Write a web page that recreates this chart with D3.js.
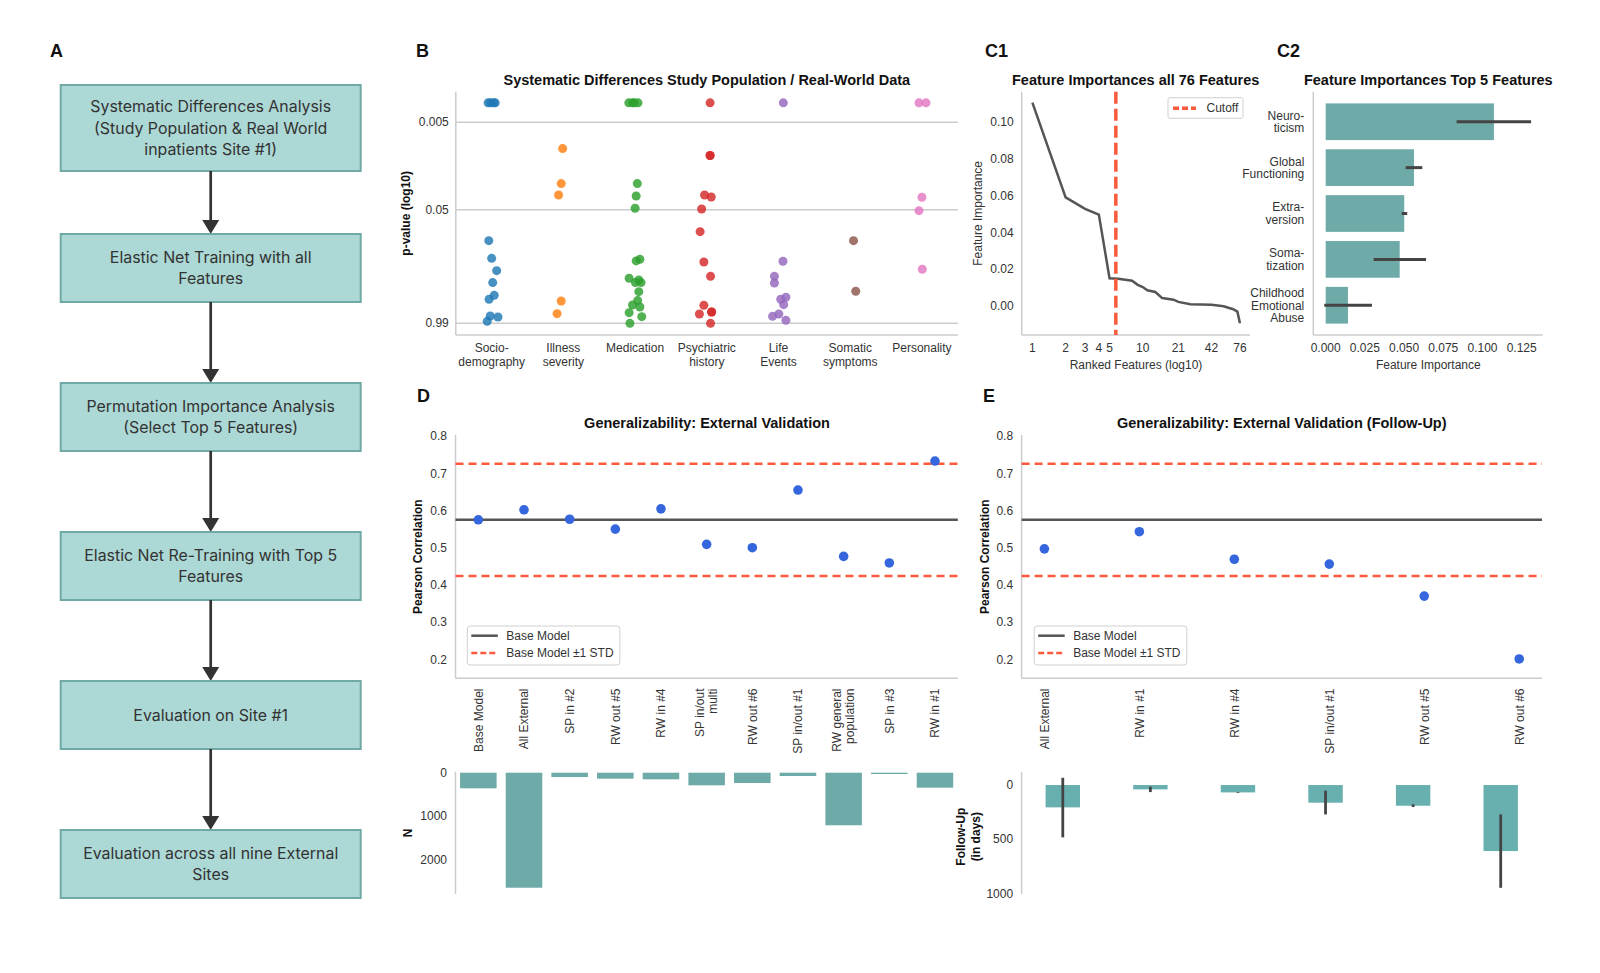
<!DOCTYPE html>
<html><head><meta charset="utf-8">
<script src="https://cdn.jsdelivr.net/npm/d3@7"></script>
<style>
body{margin:0;background:#fff}
svg text{font-family:"Liberation Sans",Arial,sans-serif;fill:#333}
</style>
</head><body>
<svg id="fig" width="1600" height="973"></svg>
<script>
// ================= DATA =================
// Panel A: flowchart steps
const flowSteps = [
  ["Systematic Differences Analysis", "(Study Population & Real World", "inpatients Site #1)"],
  ["Elastic Net Training with all", "Features"],
  ["Permutation Importance Analysis", "(Select Top 5 Features)"],
  ["Elastic Net Re-Training with Top 5", "Features"],
  ["Evaluation on Site #1"],
  ["Evaluation across all nine External", "Sites"]
];

// Panel B: strip plot, [jitter (fraction of category width), p-value]
const bCategories = ["Socio-\ndemography", "Illness\nseverity", "Medication", "Psychiatric\nhistory", "Life\nEvents", "Somatic\nsymptoms", "Personality"];
const bPTicks = [0.005, 0.05, 0.99];
const bSociodemography = [[-0.05,0.003],[-0.015,0.003],[0.026,0.003],[0.05,0.003],[-0.04,0.1127],[0,0.1794],[0.07,0.248],[0.015,0.34],[0.036,0.475],[-0.036,0.527],[-0.02,0.818],[0.088,0.839],[-0.062,0.941]];
const bIllness = [[-0.01,0.0100],[-0.03,0.0251],[-0.067,0.0339],[-0.03,0.551],[-0.088,0.769]];
const bMedication = [[-0.088,0.003],[-0.036,0.003],[-0.01,0.003],[0.041,0.003],[0.031,0.0251],[0.015,0.0348],[0,0.0481],[0.067,0.184],[0.015,0.192],[-0.083,0.303],[0.052,0.317],[0.005,0.34],[0.083,0.34],[0.052,0.431],[0.036,0.546],[-0.036,0.612],[0.067,0.645],[-0.083,0.749],[0.093,0.832],[-0.072,0.992]];
const bPsychiatric = [[0.046,0.003],[0.046,0.012],[0.046,0.012],[-0.031,0.0339],[0.062,0.0357],[-0.072,0.049],[-0.093,0.0889],[-0.041,0.1975],[0.052,0.288],[-0.041,0.618],[0.067,0.736],[0.067,0.736],[-0.103,0.776],[0.052,0.992]];
const bLifeEvents = [[0.067,0.003],[0.062,0.194],[-0.057,0.288],[-0.057,0.343],[0.103,0.5],[0.031,0.527],[0.072,0.607],[0.005,0.776],[-0.083,0.825],[0.103,0.917]];
const bSomatic = [[0.046,0.1127],[0.077,0.427]];
const bPersonality = [[-0.041,0.003],[0.057,0.003],[0,0.036],[-0.041,0.0512],[0.005,0.2394]];

// Panel C1: ranked feature importances (all 76 features)
const c1Ranks = [1,2,3,4,5,6,8,9,10,11,13,15,19,21,27,42,54,66,72,76];
const c1Importance = [0.1107,0.0591,0.0528,0.0497,0.0151,0.0148,0.0137,0.0115,0.0103,0.0085,0.0076,0.0043,0.0034,0.0022,0.0010,0.0007,-0.0002,-0.0018,-0.0031,-0.0094];
const c1XTicks = [1,2,3,4,5,10,21,42,76];
const c1YTicks = [0,0.02,0.04,0.06,0.08,0.10];
const c1Cutoff = 5.7;

// Panel C2: top 5 feature importances
const c2Features = ["Neuro-\nticism", "Global\nFunctioning", "Extra-\nversion", "Soma-\ntization", "Childhood\nEmotional\nAbuse"];
const c2Importance = [0.1073, 0.0563, 0.0501, 0.0472, 0.0142];
const c2ErrLow = [0.0835, 0.0510, 0.0485, 0.0306, -0.0009];
const c2ErrHigh = [0.1310, 0.0616, 0.0520, 0.0640, 0.0295];
const c2XTicks = [0, 0.025, 0.05, 0.075, 0.1, 0.125];

// Panel D: external validation
const dSites = ["Base Model","All External","SP in #2","RW out #5","RW in #4","SP in/out\nmulti","RW out #6","SP in/out #1","RW general\npopulation","SP in #3","RW in #1"];
const dCorrelation = [0.575,0.602,0.5765,0.550,0.6045,0.509,0.500,0.655,0.4767,0.459,0.733];
const dN = [360,2655,100,138,153,291,238,76,1214,30,346];
const dNTicks = [0,1000,2000];
const corrTicks = [0.2,0.3,0.4,0.5,0.6,0.7,0.8];
const baseModelCorr = 0.575;
const baseModelStd = 0.151;

// Panel E: external validation (follow-up)
const eSites = ["All External","RW in #1","RW in #4","SP in/out #1","RW out #5","RW out #6"];
const eCorrelation = [0.497,0.543,0.469,0.456,0.370,0.201];
const eFollowUp = [206,40,68,163,191,609];
const eFollowLow = [-67,15,65,52,178,271];
const eFollowHigh = [483,65,72,271,203,948];
const eFollowTicks = [0,500,1000];

// ================= DRAW =================
const svg = d3.select("#fig");
const SPINE = "#cccccc", RED = "#fb5a3c", TEAL = "#6daaa8", DOT = "#3566dd", DARK = "#555555";
const TITLE = 14.5, LABEL = 12;

function txt(g, x, y, s, opt={}) {
  const t = g.append("text").attr("x", x).attr("y", y).text(s)
    .attr("font-size", opt.size || 12)
    .attr("text-anchor", opt.anchor || "middle");
  if (opt.bold) t.attr("font-weight", "bold");
  if (opt.fill) t.style("fill", opt.fill);
  if (opt.family) t.style("font-family", opt.family);
  if (opt.rotate) t.attr("transform", `rotate(${opt.rotate},${x},${y})`);
  return t;
}
function hline(g, x1, x2, y, stroke, w, dash) {
  const l = g.append("line").attr("x1", x1).attr("x2", x2).attr("y1", y).attr("y2", y)
    .attr("stroke", stroke).attr("stroke-width", w);
  if (dash) l.attr("stroke-dasharray", dash);
  return l;
}
function vline(g, x, y1, y2, stroke, w, dash) {
  const l = g.append("line").attr("x1", x).attr("x2", x).attr("y1", y1).attr("y2", y2)
    .attr("stroke", stroke).attr("stroke-width", w);
  if (dash) l.attr("stroke-dasharray", dash);
  return l;
}

// panel letters
[["A",50,57],["B",416,57],["C1",985,57],["C2",1277,57],["D",417,402],["E",983,402]].forEach(([s,x,y]) =>
  txt(svg, x, y, s, {size: 18, bold: true, anchor: "start", fill: "#111"}));

// ---------- Panel A ----------
(function(){
  const g = svg.append("g");
  const boxX = 60.7, boxW = 300, cx = boxX + boxW/2;
  const tops = [85, 234, 383, 532, 681, 830];
  const heights = [86, 68, 68, 68, 68, 68];
  const lh = 21.7;
  flowSteps.forEach((lines, i) => {
    g.append("rect").attr("x", boxX).attr("y", tops[i]).attr("width", boxW).attr("height", heights[i])
      .attr("fill", "#acd8d5").attr("stroke", "#70aaa6").attr("stroke-width", 2);
    const cy = tops[i] + heights[i]/2;
    lines.forEach((s, j) => {
      txt(g, cx, cy + (j - (lines.length-1)/2)*lh + 5.6, s, {size: 15.9, family: "Inter, sans-serif", fill: "#333"});
    });
    if (i < flowSteps.length - 1) {
      const y0 = tops[i] + heights[i], y1 = tops[i+1];
      vline(g, cx, y0, y1 - 12, "#333", 2.7);
      g.append("path").attr("d", `M${cx-8.5},${y1-14}L${cx+8.5},${y1-14}L${cx},${y1}Z`).attr("fill", "#333");
    }
  });
})();

// ---------- Panel B ----------
(function(){
  const g = svg.append("g");
  const L = 455.8, R = 957.8, T = 91.7, B = 335;
  const x = d3.scaleBand().domain(bCategories).range([L, R]).padding(0);
  const y = d3.scaleLinear().domain([-0.13, 2.65]).range([B, T]);
  const yp = p => y(-Math.log10(p));
  bPTicks.forEach(p => {
    hline(g, L, R, yp(p), SPINE, 1.3);
    txt(g, L - 7, yp(p) + 4.2, d3.format("")(p), {anchor: "end"});
  });
  vline(g, L, T, B, SPINE, 1.5);
  hline(g, L, R, B, SPINE, 1.5);
  const groups = [bSociodemography, bIllness, bMedication, bPsychiatric, bLifeEvents, bSomatic, bPersonality];
  const colors = d3.schemeCategory10;
  groups.forEach((pts, i) => {
    const c = bCategories[i];
    g.selectAll(null).data(pts).enter().append("circle")
      .attr("cx", d => x(c) + x.bandwidth()/2 + d[0]*x.bandwidth())
      .attr("cy", d => yp(d[1]))
      .attr("r", 4.5).attr("fill", colors[i]).attr("fill-opacity", 0.82);
    c.split("\n").forEach((s, j) => txt(g, x(c) + x.bandwidth()/2, 351.5 + j*14, s));
  });
  txt(g, (L+R)/2, 85, "Systematic Differences Study Population / Real-World Data", {size: TITLE, bold: true, fill: "#111"});
  txt(g, 410.5, (T+B)/2, "p-value (log10)", {size: LABEL, bold: true, rotate: -90, fill: "#111"});
})();

// ---------- Panel C1 ----------
(function(){
  const g = svg.append("g");
  const L = 1021.7, R = 1250, T = 91.7, B = 335;
  const x = d3.scaleLog().domain([0.8, 93.7]).range([L, R]);
  const y = d3.scaleLinear().domain([-0.0158, 0.1166]).range([B, T]);
  vline(g, L, T, B, SPINE, 1.5);
  hline(g, L, R, B, SPINE, 1.5);
  c1YTicks.forEach(v => txt(g, L - 8, y(v) + 4.2, d3.format(".2f")(v), {anchor: "end"}));
  c1XTicks.forEach(v => txt(g, x(v), 351.5, String(v)));
  const line = d3.line().x((d,i) => x(c1Ranks[i])).y(d => y(d));
  g.append("path").attr("d", line(c1Importance)).attr("fill", "none").attr("stroke", DARK).attr("stroke-width", 2.5);
  vline(g, x(c1Cutoff), T, B, RED, 3.5, "12,5");
  // legend
  g.append("rect").attr("x", 1168).attr("y", 97.7).attr("width", 75).attr("height", 20.6).attr("rx", 2)
    .attr("fill", "#fff").attr("stroke", "#d0d0d0");
  hline(g, 1173, 1196, 108.2, RED, 3.5, "6,3");
  txt(g, 1206.5, 112.4, "Cutoff", {anchor: "start"});
  txt(g, 1135.7, 85, "Feature Importances all 76 Features", {size: TITLE, bold: true, fill: "#111"});
  txt(g, 1136, 368.5, "Ranked Features (log10)");
  txt(g, 982.5, (T+B)/2, "Feature Importance", {rotate: -90});
})();

// ---------- Panel C2 ----------
(function(){
  const g = svg.append("g");
  const L = 1313.3, R = 1542.7, T = 91.7, B = 335;
  const x = d3.scaleLinear().domain([-0.0079, 0.1384]).range([L, R]);
  const y = d3.scaleBand().domain(c2Features).range([98.8, 328.2]).paddingInner(0.2).paddingOuter(0.1);
  g.selectAll(null).data(c2Features).enter().append("rect")
    .attr("x", x(0)).attr("y", d => y(d))
    .attr("width", (d,i) => x(c2Importance[i]) - x(0)).attr("height", y.bandwidth())
    .attr("fill", TEAL);
  c2Features.forEach((f, i) => {
    const cy = y(f) + y.bandwidth()/2;
    hline(g, x(c2ErrLow[i]), x(c2ErrHigh[i]), cy, "#444", 3);
    const lines = f.split("\n");
    lines.forEach((s, j) => txt(g, 1304.3, cy + (j - (lines.length-1)/2)*12.8 + 4.3, s, {anchor: "end", size: 12}));
  });
  vline(g, L, T, B, SPINE, 1.5);
  hline(g, L, R, B, SPINE, 1.5);
  c2XTicks.forEach(v => txt(g, x(v), 351.5, d3.format(".3f")(v)));
  txt(g, 1428.3, 85, "Feature Importances Top 5 Features", {size: TITLE, bold: true, fill: "#111"});
  txt(g, 1428.3, 368.5, "Feature Importance");
})();

// ---------- Panels D & E (correlation) ----------
function corrPanel(sites, values, L, R, pad, opts) {
  const g = svg.append("g");
  const T = 435, B = 678.3;
  const x = d3.scalePoint().domain(sites).range([L, R]).padding(pad);
  const y = d3.scaleLinear().domain([0.149, 0.803]).range([B, T]);
  vline(g, L, T, B, SPINE, 1.5);
  hline(g, L, R, B, SPINE, 1.5);
  corrTicks.forEach(v => txt(g, L - 8.5, y(v) + 4.2, d3.format(".1f")(v), {anchor: "end"}));
  hline(g, L, R, y(baseModelCorr), DARK, 2.5);
  hline(g, L, R, y(baseModelCorr + baseModelStd), RED, 2.5, "8,5");
  hline(g, L, R, y(baseModelCorr - baseModelStd), RED, 2.5, "8,5");
  g.selectAll(null).data(values).enter().append("circle")
    .attr("cx", (d,i) => x(sites[i])).attr("cy", d => y(d)).attr("r", 4.8).attr("fill", DOT);
  sites.forEach(s => {
    const lines = s.split("\n");
    lines.forEach((ln, j) => {
      const px = x(s) + (j - (lines.length-1)/2)*13 + 4.3;
      txt(g, px, 688.5, ln, {anchor: "end", rotate: -90});
    });
  });
  // legend
  const lx = opts.legendX;
  g.append("rect").attr("x", lx).attr("y", 626).attr("width", 152.6).attr("height", 39).attr("rx", 3)
    .attr("fill", "#fff").attr("fill-opacity", 0.85).attr("stroke", "#d0d0d0");
  hline(g, lx + 4, lx + 30.5, 635.7, DARK, 2.5);
  hline(g, lx + 4, lx + 30.5, 653, RED, 2.5, "6,3");
  txt(g, lx + 39, 640, "Base Model", {anchor: "start"});
  txt(g, lx + 39, 657.3, "Base Model \u00b11 STD", {anchor: "start"});
  txt(g, opts.titleX, 428.3, opts.title, {size: TITLE, bold: true, fill: "#111"});
  txt(g, opts.ylabelX, (T+B)/2, "Pearson Correlation", {size: LABEL, bold: true, rotate: -90, fill: "#111"});
  return x;
}

const xD = corrPanel(dSites, dCorrelation, 455.5, 957.8, 0.5,
  {legendX: 467.3, titleX: 707, title: "Generalizability: External Validation", ylabelX: 422.5});
const xE = corrPanel(eSites, eCorrelation, 1021.6, 1542, 0.24,
  {legendX: 1034.2, titleX: 1281.8, title: "Generalizability: External Validation (Follow-Up)", ylabelX: 989.2});

// ---------- Panel D bottom: N ----------
(function(){
  const g = svg.append("g");
  const L = 455.5;
  const y = d3.scaleLinear().domain([0, 2800]).range([772.7, 894]);
  const bw = xD.step() * 0.8;
  g.selectAll(null).data(dN).enter().append("rect")
    .attr("x", (d,i) => xD(dSites[i]) - bw/2).attr("y", y(0))
    .attr("width", bw).attr("height", d => y(d) - y(0))
    .attr("fill", TEAL);
  vline(g, L, 771.7, 894, SPINE, 1.5);
  dNTicks.forEach(v => txt(g, L - 8.5, y(v) + 4.2, String(v), {anchor: "end"}));
  txt(g, 412, 833, "N", {size: LABEL, bold: true, rotate: -90, fill: "#111"});
})();

// ---------- Panel E bottom: follow-up ----------
(function(){
  const g = svg.append("g");
  const L = 1021.6;
  const x = d3.scalePoint().domain(eSites).range([1019, 1544.5]).padding(0.5);
  const y = d3.scaleLinear().domain([-123, 1005]).range([771.7, 894]);
  const bw = x.step() * 0.393;
  g.selectAll(null).data(eFollowUp).enter().append("rect")
    .attr("x", (d,i) => x(eSites[i]) - bw/2).attr("y", y(0))
    .attr("width", bw).attr("height", d => y(d) - y(0))
    .attr("fill", "#68b0b0");
  eSites.forEach((s, i) => vline(g, x(s), y(eFollowLow[i]), y(eFollowHigh[i]), "#444", 2.8));
  vline(g, L, 771.7, 894, SPINE, 1.5);
  eFollowTicks.forEach(v => txt(g, L - 8.5, y(v) + 4.2, String(v), {anchor: "end"}));
  txt(g, 965.5, 836.7, "Follow-Up", {size: LABEL, bold: true, rotate: -90, fill: "#111"});
  txt(g, 980.5, 836.7, "(in days)", {size: LABEL, bold: true, rotate: -90, fill: "#111"});
})();
</script>
</body></html>
